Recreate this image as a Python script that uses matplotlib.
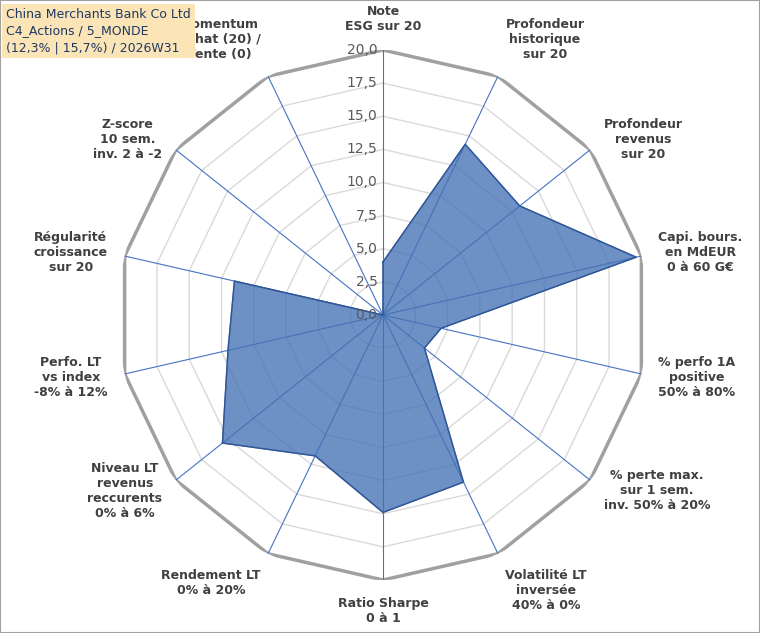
import numpy as np
import matplotlib
matplotlib.use("Agg")
import matplotlib.pyplot as plt

labels = ["Note\nESG sur 20", "Profondeur\nhistorique\nsur 20", "Profondeur\nrevenus\nsur 20",
          "Capi. bours.\nen MdEUR\n0 à 60 G€", "% perfo 1A\npositive\n50% à 80%",
          "% perte max.\nsur 1 sem.\ninv. 50% à 20%", "Volatilité LT\ninversée\n40% à 0%",
          "Ratio Sharpe\n0 à 1", "Rendement LT\n0% à 20%", "Niveau LT\nrevenus\nreccurents\n0% à 6%",
          "Perfo. LT\nvs index\n-8% à 12%", "Régularité\ncroissance\nsur 20",
          "Z-score\n10 sem.\ninv. 2 à -2", "Momentum\nAchat (20) /\nVente (0)"]
values = [4.0, 14.3, 13.2, 19.6, 4.5, 4.0, 14.0, 14.9, 11.8, 15.5, 12.0, 11.5, 0.0, 0.0]
rings = [2.5, 5, 7.5, 10, 12.5, 15, 17.5, 20]
title_txt = "China Merchants Bank Co Ltd\nC4_Actions / 5_MONDE\n(12,3% | 15,7%) / 2026W31"

n = len(labels)
ang = np.arange(n) * 2 * np.pi / n
ang_c = np.append(ang, ang[0])

fig = plt.figure(figsize=(7.6, 6.33), dpi=100)
ax = fig.add_axes([118/760, 53/633, 530/760, 530/633], projection="polar")
ax.set_theta_offset(np.pi/2)
ax.set_theta_direction(-1)
ax.set_ylim(0, 20)
ax.grid(False)
ax.spines["polar"].set_visible(False)
ax.set_xticks([])
ax.set_yticks([])

# polygon rings + spokes
for r in rings:
    ax.plot(ang_c, [r]*(n+1), color="#a0a0a0" if r == 20 else "#d9d9d9",
            lw=2.5 if r == 20 else 1.0, zorder=1)
for a in ang:
    ax.plot([a, a], [0, 20], color="#4472c4", lw=0.8, zorder=2)

v = np.append(values, values[0])
ax.fill(ang_c, v, color="#4472b4", alpha=0.78, zorder=3)
ax.plot(ang_c, v, color="#2f5597", lw=1.0, zorder=4)

for r in [0] + rings:
    ax.annotate(f"{r:.1f}".replace(".", ","), xy=(0, r), xytext=(-4, 0),
                textcoords="offset points", ha="right", va="center",
                fontsize=10, color="#595959", zorder=5)

for a, lab in zip(ang, labels):
    s, c = np.sin(a), np.cos(a)
    ha = "center" if abs(s) < 0.2 else ("left" if s > 0 else "right")
    va = "bottom" if c > 0.9 else ("top" if c < -0.9 else "center")
    ax.text(a, 21.3, lab, ha=ha, va=va, multialignment="center",
            fontsize=9, fontweight="bold", color="#404040", linespacing=1.2)

fig.text(6/760, 1 - 8/633, title_txt, ha="left", va="top", fontsize=9,
         color="#1f3864", linespacing=1.35,
         bbox=dict(boxstyle="square,pad=0.3", fc="#fbe5b6", ec="none"))
fig.patches.append(plt.Rectangle((0, 0), 1, 1, transform=fig.transFigure,
                                 fill=False, ec="#a0a0a0", lw=1.5))
fig.savefig("out.png", dpi=100)
